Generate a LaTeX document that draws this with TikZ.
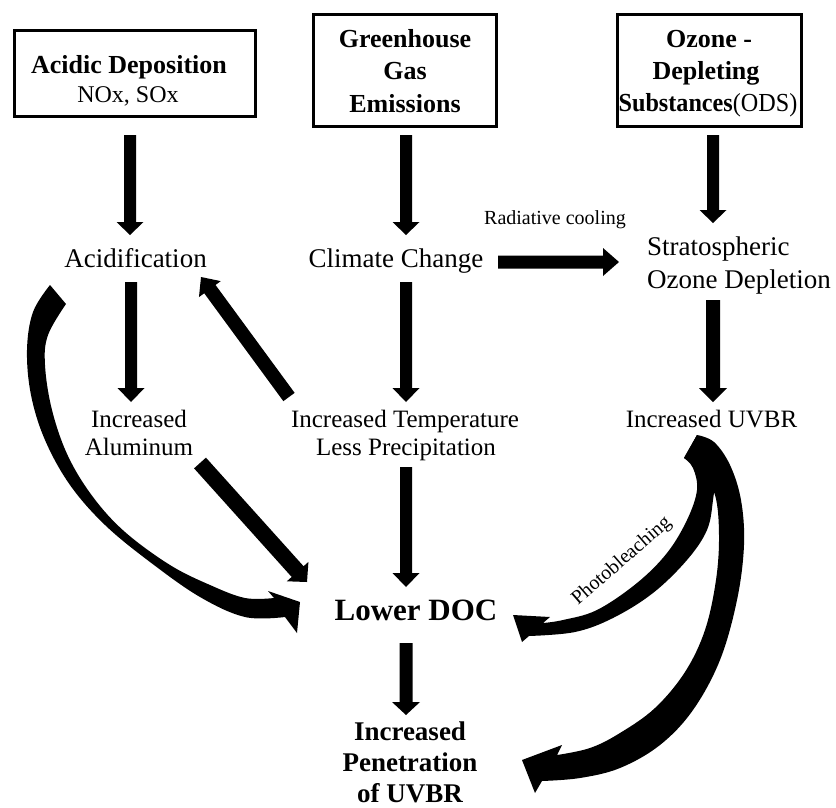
\documentclass[tikz,border=0pt]{standalone}
\usepackage{fontspec}
\setmainfont{Liberation Serif}
\usetikzlibrary{calc}
% block arrow: from, to, half shaft width, half head width, head length (pt)
\newcommand\barrow[5]{%
  \coordinate (ba) at ($(#2)!#5pt!(#1)$);
  \fill ($(#1)!#3pt!90:(#2)$) -- ($(ba)!#3pt!90:(#2)$) -- ($(ba)!#4pt!90:(#2)$) -- (#2)
   -- ($(ba)!#4pt!-90:(#2)$) -- ($(ba)!#3pt!-90:(#2)$) -- ($(#1)!#3pt!-90:(#2)$) -- cycle;}
\tikzset{
  boxst/.style={draw, line width=3pt, inner sep=0pt},
  tb/.style={font=\fontsize{26}{31}\selectfont\bfseries, inner sep=0pt, anchor=base},
  t27/.style={font=\fontsize{27}{32}\selectfont, inner sep=0pt, anchor=base},
  t25/.style={font=\fontsize{25}{30}\selectfont, inner sep=0pt, anchor=base},
  t20/.style={font=\fontsize{20}{24}\selectfont, inner sep=0pt, anchor=base},
}
\begin{document}
\begin{tikzpicture}[x=1pt,y=-1pt]
\path[fill=white, use as bounding box] (0,0) rectangle (836,807);
% boxes
\node[boxst, minimum width=241pt, minimum height=86pt] (box1) at (135,73.5) {};
\node[boxst, minimum width=183pt, minimum height=112pt] (box2) at (405,70.5) {};
\node[boxst, minimum width=184pt, minimum height=112pt] (box3) at (709.5,70.5) {};
\node[tb] (b1a) at (129,73) {Acidic Deposition};
\node[t27, font=\fontsize{24}{29}\selectfont] (b1b) at (128,102) {NOx, SOx};
\node[tb] (b2a) at (405,47) {Greenhouse};
\node[tb] (b2b) at (405,79) {Gas};
\node[tb] (b2c) at (405,112) {Emissions};
\node[tb] (b3a) at (709,47) {Ozone -};
\node[tb] (b3b) at (706,79) {Depleting};
\node[tb] (b3c) at (708,111) {\scalebox{0.93}[1]{Substances\mdseries(ODS)}};
% row 2
\node[t27] (acid) at (135.5,267) {Acidification};
\node[t27] (clim) at (396,267) {Climate Change};
\node[t20] (rad) at (555,224) {Radiative cooling};
\node[t27, anchor=base west] (strat) at (647,255) {Stratospheric};
\node[t27, anchor=base west] (strat2) at (647,288) {Ozone Depletion};
% row 3
\node[t25] (al1) at (139,427) {Increased};
\node[t25] (al2) at (139,455) {Aluminum};
\node[t25] (te1) at (405,427) {Increased Temperature};
\node[t25] (te2) at (406,455) {Less Precipitation};
\node[t25] (uv) at (711.5,427) {Increased UVBR};
% bottom
\node[tb, font=\fontsize{31}{36}\selectfont\bfseries] (doc) at (416,620) {Lower DOC};
\node[tb, font=\fontsize{27}{32}\selectfont\bfseries] (pe1) at (410,740) {Increased};
\node[tb, font=\fontsize{27}{32}\selectfont\bfseries] (pe2) at (410,771) {Penetration};
\node[tb, font=\fontsize{27}{32}\selectfont\bfseries] (pe3) at (410,802) {of UVBR};
\node[t20, rotate=41] (pb) at (625,565) {Photobleaching};
% arrow end points
\coordinate (a1s) at (130,135); \coordinate (a1e) at (130,235);
\coordinate (a2s) at (406,135); \coordinate (a2e) at (406,235);
\coordinate (a3s) at (713,135); \coordinate (a3e) at (713,223);
\coordinate (a4s) at (131,282); \coordinate (a4e) at (131,402);
\coordinate (a5s) at (406,282); \coordinate (a5e) at (406,402);
\coordinate (a6s) at (498,262); \coordinate (a6e) at (619,262);
\coordinate (a7s) at (289,397); \coordinate (a7e) at (201,277);
\coordinate (a8s) at (713,300); \coordinate (a8e) at (713,402);
\coordinate (a9s) at (200,463); \coordinate (a9e) at (307,582);
\coordinate (a10s) at (406,467); \coordinate (a10e) at (406,587);
\coordinate (a11s) at (406,643); \coordinate (a11e) at (406,715);
\barrow{a1s}{a1e}{6}{13.5}{13}
\barrow{a2s}{a2e}{6}{13.5}{13}
\barrow{a3s}{a3e}{6}{13.5}{13}
\barrow{a4s}{a4e}{6}{13.5}{14}
\barrow{a5s}{a5e}{6}{13.5}{14}
\barrow{a6s}{a6e}{6.5}{14}{16}
\barrow{a7s}{a7e}{7}{13.5}{15}
\barrow{a8s}{a8e}{7}{14}{14}
\barrow{a9s}{a9e}{8}{14.5}{14}
\barrow{a10s}{a10e}{6}{13.5}{14}
\barrow{a11s}{a11e}{6.5}{14}{13}
% curved arrow: Acidification -> Lower DOC
\fill plot[smooth, tension=0.6] coordinates {(50,285) (33,312) (27,350) (31,395) (45,440) (70,485) (105,525) (150,562) (200,597) (245,617) (285,617)}
  -- (297,633) -- (300,602) -- (268,591)
  -- plot[smooth, tension=0.6] coordinates {(274,598) (245,598) (210,585) (170,565) (125,532) (93,497) (68,456) (52,410) (45,365) (48,335) (66,304)} -- cycle;
% curved arrow: Increased UVBR -> Increased Penetration
\fill (684,458) -- plot[smooth, tension=0.6] coordinates {(697,435) (714,442) (730,465) (741,500) (744,545) (737,600) (720,660) (693,710) (660,745) (620,768) (580,778) (542,781)}
  -- (535,793) -- (522,760) -- (562,745)
  -- plot[smooth, tension=0.6] coordinates {(557,755) (590,748) (620,733) (655,708) (685,672) (705,630) (716,580) (719,535) (715,495) (700,470) (684,458)} -- cycle;
% curved arrow: Increased UVBR -> Lower DOC (photobleaching)
\fill (684,458) -- plot[smooth, tension=0.6] coordinates {(697,435) (708,455) (714,480) (713,500) (707,530) (687,560) (653,593) (613,618) (575,632) (529,636)}
  -- (522,642) -- (513,615) -- (550,617)
  -- plot[smooth, tension=0.6] coordinates {(543,623) (563,620) (597,610) (637,583) (667,553) (687,520) (697,490) (693,468) (684,458)} -- cycle;
\end{tikzpicture}
\end{document}
